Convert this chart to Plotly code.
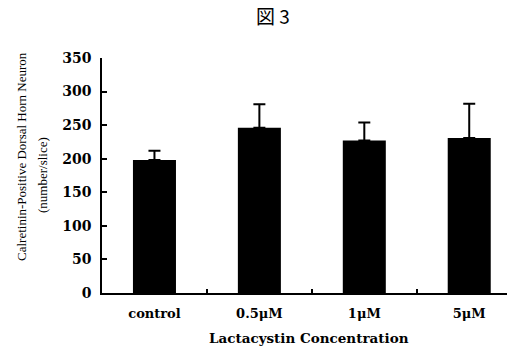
import plotly.graph_objects as go

categories = ["control", "0.5μM", "1μM", "5μM"]
means = [198, 246, 227, 231]
errors = [14, 35, 27, 51]
y_ticks = [0, 50, 100, 150, 200, 250, 300, 350]

xs = list(range(len(categories)))

fig = go.Figure()
fig.add_trace(go.Bar(
    x=xs, y=means, width=0.41,
    marker=dict(color="black", line=dict(width=0)),
    error_y=dict(type="data", array=errors, arrayminus=[0]*len(errors),
                 symmetric=False, color="black", thickness=2, width=6),
))

serif = "DejaVu Serif"
L, R, T, B = 102, 11, 58, 53
W, H = 518, 346
pw, ph = W - L - R, H - T - B

def px(x):
    return (x - L) / pw

def py(y):
    return (H - B - y) / ph

ann_font = dict(family="Liberation Serif", size=13, color="black")
fig.update_layout(
    width=W, height=H,
    margin=dict(l=L, r=R, t=T, b=B, autoexpand=False),
    paper_bgcolor="white", plot_bgcolor="white",
    showlegend=False,
    font=dict(family=serif, color="black"),
    annotations=[
        dict(text="図 3", x=px(273), y=py(16), xref="paper", yref="paper",
             showarrow=False, xanchor="center", yanchor="middle",
             font=dict(family="Noto Sans CJK JP", size=19, color="black")),
        dict(text="Calretinin-Positive Dorsal Horn Neuron", x=px(21), y=py(157),
             xref="paper", yref="paper", showarrow=False, textangle=-90,
             xanchor="center", yanchor="middle", font=ann_font),
        dict(text="(number/slice)", x=px(42), y=py(175),
             xref="paper", yref="paper", showarrow=False, textangle=-90,
             xanchor="center", yanchor="middle", font=ann_font),
        dict(text="Lactacystin Concentration", x=px(309), y=py(338),
             xref="paper", yref="paper", showarrow=False,
             xanchor="center", yanchor="middle",
             font=dict(family=serif, size=13.5, color="black", weight="bold")),
    ],
)

fig.update_xaxes(
    range=[-0.5, 3.36], automargin=False,
    tickmode="array", tickvals=xs, ticktext=categories,
    ticks="", showgrid=False, zeroline=False,
    showline=True, linecolor="black", linewidth=1.5,
    tickfont=dict(family=serif, size=13, color="black", weight="bold"),
    ticklabelstandoff=8,
    minor=dict(tickmode="array", tickvals=[0.5, 1.5, 2.5], ticks="inside",
               ticklen=4, tickwidth=1.5, tickcolor="black", showgrid=False),
)
fig.update_yaxes(
    range=[0, 350], automargin=False,
    tickmode="array", tickvals=y_ticks,
    ticks="inside", ticklen=5, tickwidth=1.5, tickcolor="black",
    showgrid=False, zeroline=False,
    showline=True, linecolor="black", linewidth=1.5,
    tickfont=dict(family=serif, size=14, color="black", weight="bold"),
    ticklabelstandoff=6,
)

fig.write_html("out.html", config={"displayModeBar": False},
               post_script="document.body.style.margin='0';")
